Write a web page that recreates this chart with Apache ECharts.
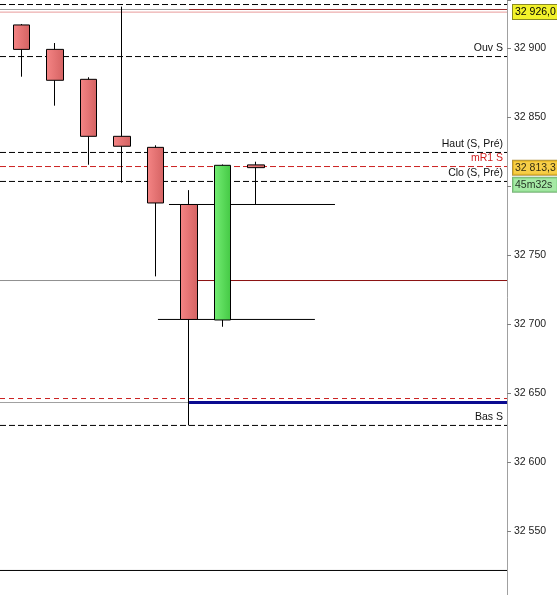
<!DOCTYPE html>
<html><head><meta charset="utf-8">
<script src="https://cdn.jsdelivr.net/npm/echarts@6/dist/echarts.min.js"></script>
<style>html,body{margin:0;padding:0;background:#fff}#c{width:557px;height:595px}</style>
</head><body><div id="c"></div>
<script>
// ---------- data ----------
const categories = ['1','2','3','4','5','6','7','8','9','10','11','12','13','14','15'];
const candleOpen  = [32916.7, 32899.0, 32877.3, 32836.0, 32828.0, 32786.6, 32702.9, 32815.3];
const candleClose = [32899.0, 32876.6, 32836.0, 32828.8, 32787.7, 32703.3, 32815.0, 32813.3];
const candleLow   = [32879.2, 32858.2, 32815.4, 32802.4, 32734.5, 32626.5, 32698.0, 32786.6];
const candleHigh  = [32917.4, 32903.6, 32878.8, 32930.0, 32829.5, 32797.0, 32815.6, 32817.6];
const yTickLabels = [32550, 32600, 32650, 32700, 32750, 32850, 32900];
// named levels (dashed)
const levelNames  = ['Haut S', 'Ouv S', 'Haut (S, Pré)', 'mR1 S', 'Clo (S, Pré)', 'Bas S'];
const levelValues = [32931.5, 32893.8, 32824.3, 32814.1, 32803.3, 32626.5];
// two-colour levels (grey left part, coloured right part)
const splitLevels = [32927.9, 32731.5, 32643.1];
const upperPriceLevel = 32926.0;
const lowerDashLevel = 32646.0;
const bottomLevel = 32521.4;
// short solid segments: value, start index, end index
const segLevels = [32786.6, 32703.3];
const segStart  = [4.40, 4.07];
const segEnd    = [9.36, 8.76];
const lastPrice = 32813.3;
const timeLeft = '45m32s';

// ---------- helpers ----------
const FONT = "'Liberation Sans', Arial, sans-serif";
const Y_MIN = 32500, Y_MAX = 32934.78;
const X1 = 14.5, SPLIT = 5;
const X0 = -0.5 - 5 / (502 / 15);   // left canvas edge in candle-index units
const fmt = v => String(Math.round(v)).replace(/\B(?=(\d{3})+(?!\d))/g, ' ');
const fmtDec = v => fmt(Math.floor(v)) + ',' + (Math.round(v * 10) % 10);

function hline(y, x0, x1, color, width, type, label) {
  const end = { value: [x1, y] };
  if (label) end.label = label;
  return {
    type: 'line', xAxisIndex: 1, yAxisIndex: 1, clip: false, silent: true, animation: false,
    symbol: 'circle', symbolSize: 0, showSymbol: true, z: 1,
    lineStyle: { color: color, width: width, type: type },
    itemStyle: { color: color },
    emphasis: { disabled: true },
    data: [[x0, y], end]
  };
}
const dash = [6, 3];
const series = [];

const red = new echarts.graphic.LinearGradient(0, 0, 1, 0, [
  { offset: 0, color: '#f58585' }, { offset: 1, color: '#d46262' }]);
const green = new echarts.graphic.LinearGradient(0, 0, 1, 0, [
  { offset: 0, color: '#74ee74' }, { offset: 1, color: '#44c844' }]);

series.push({
  type: 'candlestick', xAxisIndex: 0, yAxisIndex: 0, barWidth: 17, z: 5, animation: false,
  itemStyle: { color: green, color0: red, borderColor: '#000', borderColor0: '#000', borderWidth: 1 },
  data: candleOpen.map((o, i) => [o, candleClose[i], candleLow[i], candleHigh[i]])
});

levelNames.forEach((n, i) => {
  const isRed = n === 'mR1 S';
  const col = isRed ? '#cc2020' : '#000';
  series.push(hline(levelValues[i], X0, X1, col, 1, dash, {
    show: true, formatter: n, position: 'left', distance: 4, offset: [0, -8],
    color: isRed ? '#d02020' : '#111', fontFamily: FONT, fontSize: 10.5
  }));
});
const splitColors = [['#a0a0a0', '#9a2a2a', 1], ['#909090', '#8b1010', 1], ['#a0a0a0', '#0a0a90', 3]];
splitLevels.forEach((v, i) => {
  series.push(hline(v, X0, SPLIT, splitColors[i][0], 1, 'solid'));
  series.push(hline(v, SPLIT, X1, splitColors[i][1], splitColors[i][2], 'solid'));
});
series.push(hline(upperPriceLevel, X0, X1, '#e89a9a', 1, 'solid', {
  show: true, formatter: fmtDec(upperPriceLevel), position: 'right', distance: 6,
  backgroundColor: '#f2f22a', borderColor: '#8a8a20', borderWidth: 1, padding: [2, 3, 1, 2],
  color: '#000', fontFamily: FONT, fontSize: 10.5
}));
series.push(hline(lowerDashLevel, X0, X1, '#cc2020', 1, [5, 4]));
series.push(hline(bottomLevel, X0, X1, '#000', 1, 'solid'));
segLevels.forEach((v, i) => series.push(hline(v, segStart[i], segEnd[i], '#000', 1, 'solid')));

series.push({
  type: 'scatter', xAxisIndex: 1, yAxisIndex: 1, symbolSize: 0, silent: true, animation: false, z: 10,
  data: [
    { value: [X1, lastPrice], label: { show: true, formatter: fmtDec(lastPrice), position: 'right', distance: 6,
      backgroundColor: '#f5c21a', borderColor: '#a07a10', borderWidth: 1, padding: [2, 3, 1, 2],
      color: '#000', fontFamily: FONT, fontSize: 10.5 } },
    { value: [X1, lastPrice], label: { show: true, formatter: timeLeft, position: 'right', distance: 6, offset: [0, 17],
      backgroundColor: '#8ee48e', borderColor: '#5aa05a', borderWidth: 1, padding: [2, 5, 1, 2],
      color: '#000', fontFamily: FONT, fontSize: 10.5 } }
  ]
});

const chart = echarts.init(document.getElementById('c'), null, { renderer: 'canvas' });
chart.setOption({
  backgroundColor: '#fff',
  animation: false,
  grid: [
    { left: 5, right: 50, top: 0, height: 600, outerBoundsMode: 'none', containLabel: false },
    { left: 0, right: 50, top: 0, height: 600, outerBoundsMode: 'none', containLabel: false }
  ],
  xAxis: [
    { type: 'category', gridIndex: 0, data: categories, boundaryGap: true, show: false },
    { type: 'value', gridIndex: 1, min: X0, max: X1, show: false }
  ],
  yAxis: [{
    type: 'value', gridIndex: 0, position: 'right', min: Y_MIN, max: Y_MAX, interval: 50,
    axisLine: { show: true, onZero: false, lineStyle: { color: '#a0a0a0' } },
    axisTick: { show: true, inside: false, length: 4, lineStyle: { color: '#808080' } },
    splitLine: { show: false },
    axisLabel: { margin: 7, color: '#222', fontFamily: FONT, fontSize: 10.5,
      formatter: v => yTickLabels.indexOf(Math.round(v)) >= 0 ? fmt(v) : '' }
  }, {
    type: 'value', gridIndex: 1, position: 'right', min: Y_MIN, max: Y_MAX, interval: 50, show: false
  }],
  series: series
});
</script></body></html>
